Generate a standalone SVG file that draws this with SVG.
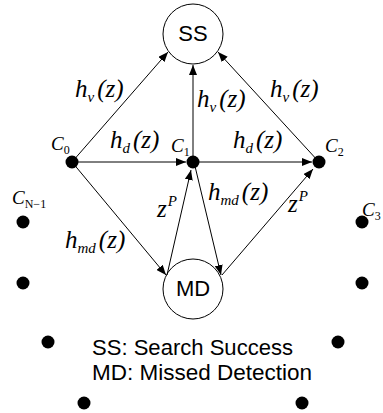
<svg xmlns="http://www.w3.org/2000/svg" width="383" height="413" viewBox="0 0 383 413">
<style>
.m{font-family:"Liberation Serif","Times New Roman","DejaVu Serif",serif;font-style:italic;font-size:25px;fill:#000}
.s{font-size:15px}
.c{font-family:"Liberation Serif","Times New Roman","DejaVu Serif",serif;font-style:italic;font-size:19px;fill:#000}
.cs{font-size:12px;font-style:normal}
.t{font-family:"Liberation Sans",Arial,sans-serif;font-size:22px;fill:#000}
.e{stroke:#000;stroke-width:1;fill:none;marker-end:url(#ah)}
.dot{fill:#000}
.st{fill:none;stroke:#000;stroke-width:1}
</style>
<defs>
<marker id="ah" markerUnits="userSpaceOnUse" markerWidth="10" markerHeight="8" refX="10" refY="4" orient="auto">
<path d="M0,0 L10,4 L0,8 z" fill="#000"/>
</marker>
</defs>
<g id="connectors">
<line class="e" x1="72" y1="162" x2="168" y2="52"/>
<line class="e" x1="193" y1="162" x2="193" y2="65"/>
<line class="e" x1="319" y1="162" x2="218" y2="52"/>
<line class="e" x1="72" y1="162" x2="186" y2="162"/>
<line class="e" x1="193" y1="162" x2="312" y2="162"/>
<line class="e" x1="72" y1="162" x2="166" y2="275"/>
<line class="e" x1="167" y1="275" x2="191" y2="170"/>
<line class="e" x1="194" y1="162" x2="221" y2="275"/>
<line class="e" x1="222" y1="275" x2="313" y2="169"/>
</g>
<g id="SS"><circle class="st" cx="193" cy="34" r="30"/><text class="t" x="193" y="41" text-anchor="middle" font-size="20">SS</text></g>
<g id="MD"><circle class="st" cx="193" cy="289" r="30"/><text class="t" x="193" y="296" text-anchor="middle" font-size="20">MD</text></g>
<g id="C0"><circle class="dot" cx="72" cy="162" r="6.5"/><text class="c" x="51" y="150">C<tspan class="cs" dy="4">0</tspan></text></g>
<g id="C1"><circle class="dot" cx="193" cy="162" r="6.5"/><text class="c" x="171" y="152">C<tspan class="cs" dy="4">1</tspan></text></g>
<g id="C2"><circle class="dot" cx="319" cy="162" r="6.5"/><text class="c" x="325" y="152">C<tspan class="cs" dy="4">2</tspan></text></g>
<g id="C3"><circle class="dot" cx="362" cy="222" r="6.5"/><text class="c" x="362" y="216">C<tspan class="cs" dy="4">3</tspan></text></g>
<g id="CN-1"><circle class="dot" cx="23" cy="222" r="6.5"/><text class="c" x="12" y="204">C<tspan class="cs" dy="4" font-style="italic">N</tspan><tspan class="cs" dy="0">−1</tspan></text></g>
<g id="D4"><circle class="dot" cx="362" cy="283" r="6.5"/></g>
<g id="D5"><circle class="dot" cx="338" cy="342" r="6.5"/></g>
<g id="D6"><circle class="dot" cx="302" cy="403" r="6.5"/></g>
<g id="D7"><circle class="dot" cx="84" cy="403" r="6.5"/></g>
<g id="D8"><circle class="dot" cx="48" cy="342" r="6.5"/></g>
<g id="D9"><circle class="dot" cx="23" cy="283" r="6.5"/></g>
<g id="labels">
<text class="m" x="75" y="97">h<tspan class="s" dy="5">v</tspan><tspan dy="-5" dx="3">(z)</tspan></text>
<text class="m" x="197" y="107">h<tspan class="s" dy="5">v</tspan><tspan dy="-5" dx="3">(z)</tspan></text>
<text class="m" x="270" y="97">h<tspan class="s" dy="5">v</tspan><tspan dy="-5" dx="3">(z)</tspan></text>
<text class="m" x="110" y="148">h<tspan class="s" dy="5">d</tspan><tspan dy="-5" dx="3">(z)</tspan></text>
<text class="m" x="233" y="148">h<tspan class="s" dy="5">d</tspan><tspan dy="-5" dx="3">(z)</tspan></text>
<text class="m" x="208" y="200">h<tspan class="s" dy="5">md</tspan><tspan dy="-5" dx="3">(z)</tspan></text>
<text class="m" x="65" y="248">h<tspan class="s" dy="5">md</tspan><tspan dy="-5" dx="3">(z)</tspan></text>
<text class="m" x="157" y="217">z<tspan class="s" dy="-11" dx="1">P</tspan></text>
<text class="m" x="288" y="212">z<tspan class="s" dy="-11" dx="1">P</tspan></text>
<text class="t" x="92" y="355" textLength="201" lengthAdjust="spacingAndGlyphs">SS: Search Success</text>
<text class="t" x="92" y="380" textLength="220" lengthAdjust="spacingAndGlyphs">MD: Missed Detection</text>
</g>
</svg>
